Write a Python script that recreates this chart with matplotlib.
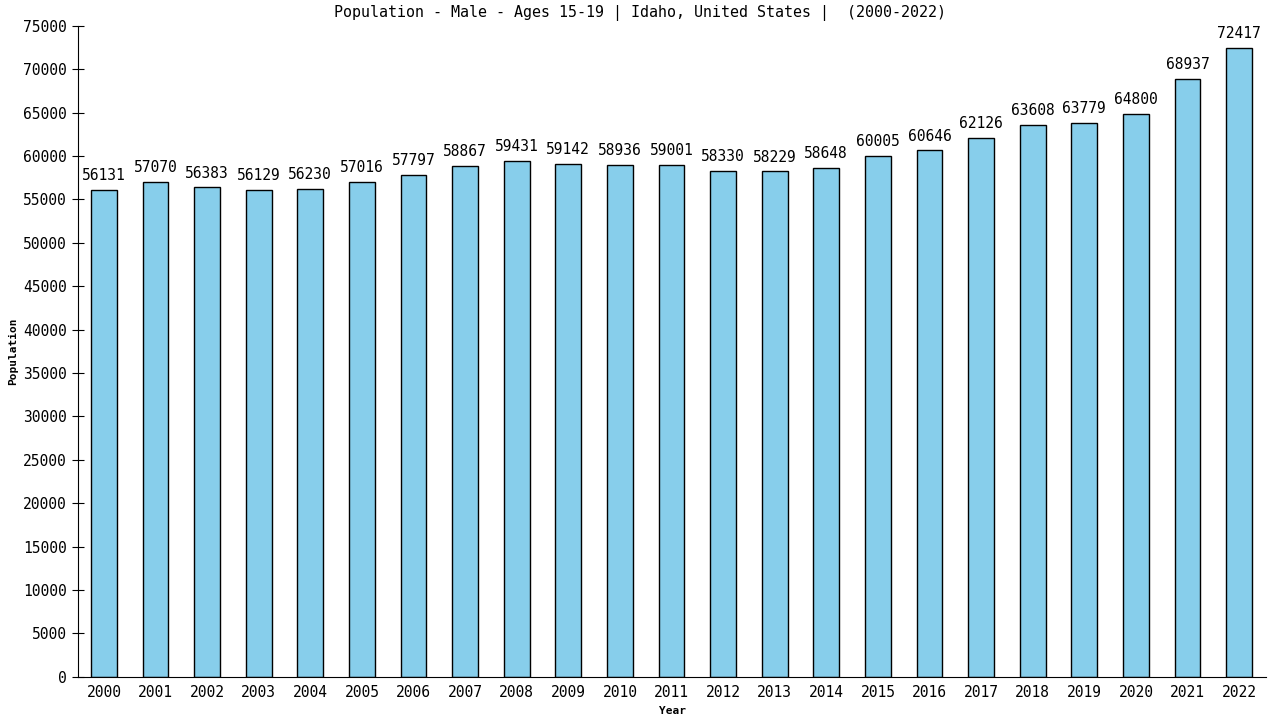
import matplotlib
matplotlib.use("Agg")
import matplotlib.pyplot as plt

# Data
years = [str(y) for y in range(2000, 2023)]
population = [56131, 57070, 56383, 56129, 56230, 57016, 57797, 58867, 59431,
              59142, 58936, 59001, 58330, 58229, 58648, 60005, 60646, 62126,
              63608, 63779, 64800, 68937, 72417]
yticks = list(range(0, 75001, 5000))

plt.rcParams['font.family'] = ['DejaVu Sans Mono']

fig = plt.figure(figsize=(12.8, 7.2), dpi=100)
ax = fig.add_axes([0.061, 0.060, 0.928, 0.904])

x = range(len(years))
bars = ax.bar(x, population, width=0.5, color='#87CEEB', edgecolor='black', linewidth=1)

for xi, v in zip(x, population):
    ax.text(xi, v + 800, str(v), ha='center', va='bottom', fontsize=10.5)

ax.set_xlim(-0.5, len(years) - 0.48)
ax.set_ylim(0, 75000)
ax.set_xticks(list(x))
ax.set_xticklabels(years, fontsize=10.5)
ax.set_yticks(yticks)
ax.set_yticklabels([str(t) for t in yticks], fontsize=10.5)
ax.tick_params(axis='x', length=0, pad=6)
ax.tick_params(axis='y', direction='inout', length=8, pad=4)

for s in ['top', 'right']:
    ax.spines[s].set_visible(False)

ax.set_xlabel('Year', fontsize=8, fontweight='bold', labelpad=4)
ax.set_ylabel('Population', fontsize=8, fontweight='bold', labelpad=4)
fig.text(0.5, 0.993, 'Population - Male - Ages 15-19 | Idaho, United States |  (2000-2022)',
         ha='center', va='top', fontsize=10.8)

fig.savefig('out.png', dpi=100)
